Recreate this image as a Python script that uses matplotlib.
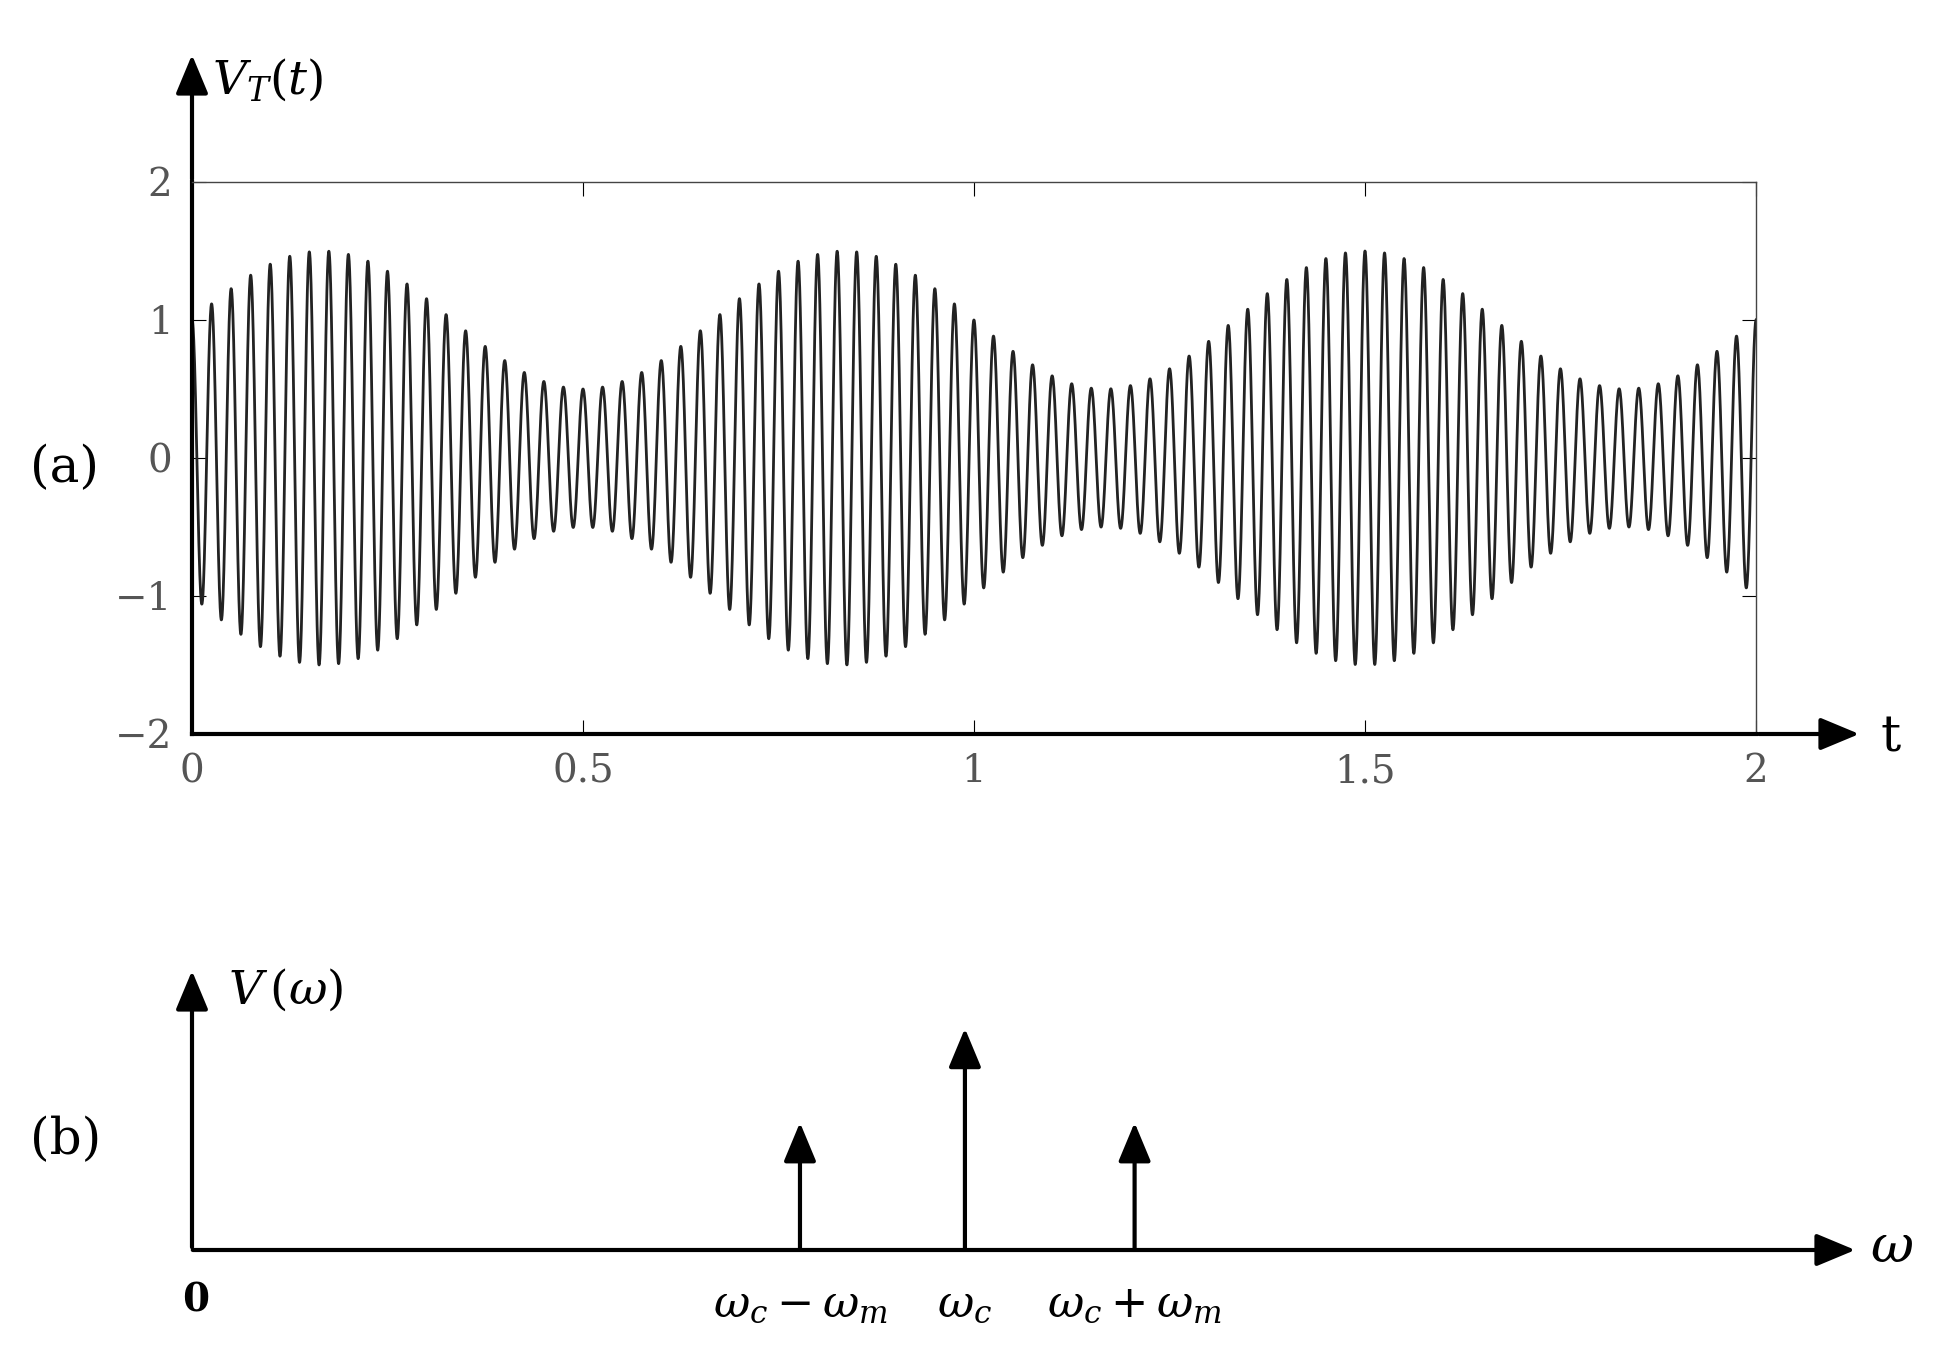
import numpy as np
import matplotlib
matplotlib.use("Agg")
import matplotlib.pyplot as plt

carrier_freq = 40.0
mod_freq = 1.5
mod_index = 0.5
t_ticks = [0, 0.5, 1, 1.5, 2]
y_ticks = [-2, -1, 0, 1, 2]
spike_pos = [3.87, 4.92, 6.0]
spike_height = [0.46, 0.8, 0.46]
spike_labels = [r"$\omega_c-\omega_m$", r"$\omega_c$", r"$\omega_c+\omega_m$"]

W, H = 1935, 1367
fig = plt.figure(figsize=(W/100, H/100), dpi=100)
plt.rcParams['font.family'] = ['DejaVu Serif']
plt.rcParams['mathtext.fontset'] = 'dejavuserif'

def fx(px): return px / W
def fy(py): return 1 - py / H

L, R = 192, 1756
ax = fig.add_axes([fx(L), fy(734), fx(R - L), fy(182) - fy(734)])
t = np.linspace(0, 2, 8000)
v = (1 + mod_index*np.sin(2*np.pi*mod_freq*t)) * np.cos(2*np.pi*carrier_freq*t)
ax.plot(t, v, color='#222222', lw=2.0)
ax.set_xlim(0, 2); ax.set_ylim(-2, 2)
ax.set_xticks(t_ticks); ax.set_xticklabels(['0', '0.5', '1', '1.5', '2'])
ax.set_yticks(y_ticks); ax.set_yticklabels(['\u22122', '\u22121', '0', '1', '2'])
ax.tick_params(direction='in', top=True, right=True, length=10, labelsize=28,
               labelcolor='#555555', pad=14)
for s in ax.spines.values():
    s.set_linewidth(1.0); s.set_color('#444444')
ax.spines['left'].set_linewidth(3); ax.spines['left'].set_color('black')
ax.spines['bottom'].set_linewidth(3); ax.spines['bottom'].set_color('black')

arr = dict(arrowstyle='-|>,head_width=0.5,head_length=1.2', lw=3, color='black')
fig.add_artist(matplotlib.patches.FancyArrowPatch((fx(L), fy(182)), (fx(L), fy(52)),
               transform=fig.transFigure, mutation_scale=20, **arr))
fig.add_artist(matplotlib.patches.FancyArrowPatch((fx(R), fy(734)), (fx(1862), fy(734)),
               transform=fig.transFigure, mutation_scale=20, **arr))
fig.text(fx(212), fy(80), r"$V_T(t)$", fontsize=34, va='center')
fig.text(fx(1880), fy(738), "t", fontsize=36, va='center')
fig.text(fx(30), fy(468), "(a)", fontsize=36, va='center')

# bottom
ax2 = fig.add_axes([fx(L), fy(1250), fx(1763 - L), fy(973) - fy(1250)])
ax2.set_xlim(0, 10); ax2.set_ylim(0, 1)
ax2.axis('off')
for p, h in zip(spike_pos, spike_height):
    ax2.annotate('', xy=(p, h), xytext=(p, 0),
                 arrowprops=dict(arrowstyle='-|>,head_width=0.5,head_length=1.2', lw=3,
                                 color='black', mutation_scale=20, shrinkA=0, shrinkB=0))
for p, lab in zip(spike_pos, spike_labels):
    ax2.text(p, -0.12, lab, fontsize=32, ha='center', va='top')
fig.add_artist(matplotlib.patches.FancyArrowPatch((fx(L), fy(1250)), (fx(L), fy(968)),
               transform=fig.transFigure, mutation_scale=20, **arr))
fig.add_artist(matplotlib.patches.FancyArrowPatch((fx(L-2), fy(1250)), (fx(1858), fy(1250)),
               transform=fig.transFigure, mutation_scale=20, **arr))
fig.text(fx(228), fy(990), r"$V\,(\omega)$", fontsize=34, va='center')
fig.text(fx(1870), fy(1247), r"$\omega$", fontsize=38, va='center')
fig.text(fx(182), fy(1300), "0", fontsize=28, fontweight='bold', va='center')
fig.text(fx(30), fy(1140), "(b)", fontsize=36, va='center')

fig.savefig("out.png", dpi=100)
